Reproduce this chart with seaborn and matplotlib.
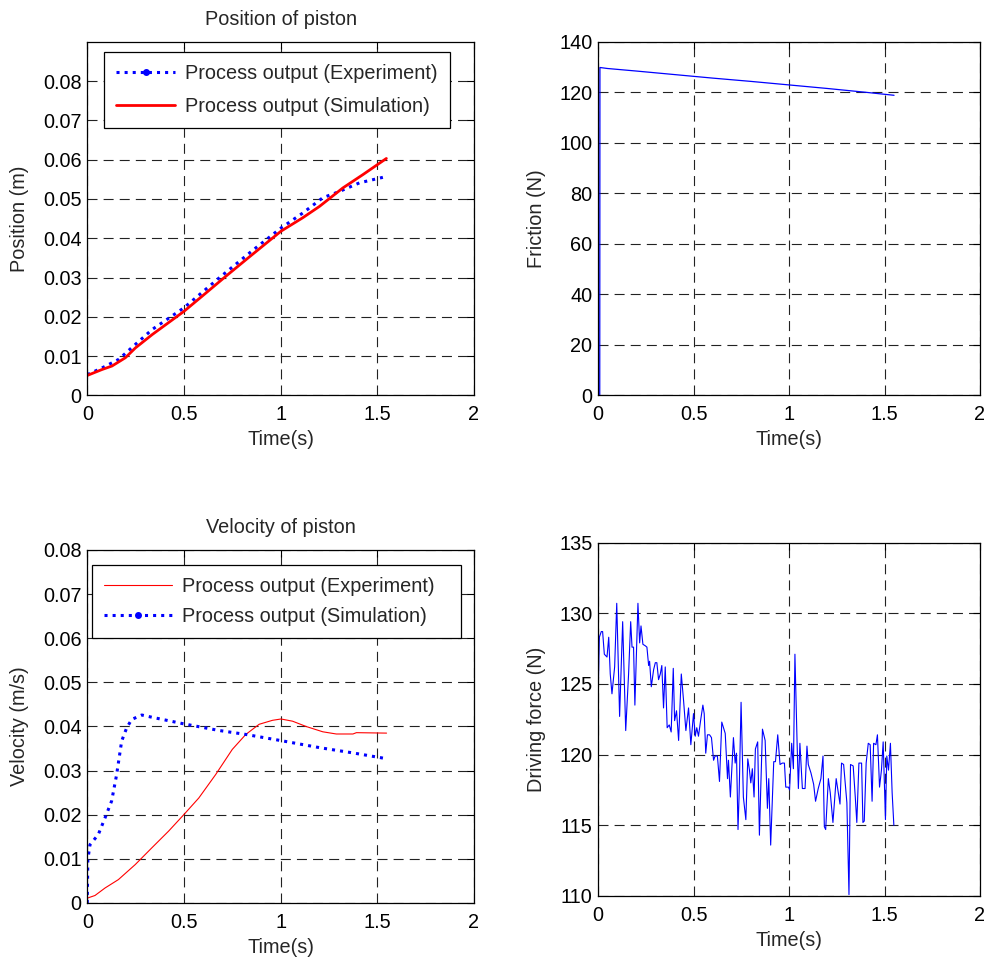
import numpy as np
import pandas as pd
import matplotlib
matplotlib.use("Agg")
import matplotlib.pyplot as plt
from matplotlib.lines import Line2D
import seaborn as sns

# ---------------- data ----------------
# Position of piston
pos_exp_t = [0, 0.076, 0.163, 0.249, 0.336, 0.500, 0.682, 0.855, 1.002, 1.114, 1.218, 1.304, 1.408, 1.529]
pos_exp_v = [0.0053, 0.0070, 0.0092, 0.0130, 0.0168, 0.0223, 0.0299, 0.0369, 0.0426, 0.0464, 0.0503, 0.0519, 0.0541, 0.0555]
pos_sim_t = [0, 0.076, 0.128, 0.197, 0.249, 0.336, 0.500, 0.595, 0.716, 0.837, 1.002, 1.114, 1.201, 1.322, 1.426, 1.547]
pos_sim_v = [0.0051, 0.0066, 0.0075, 0.0096, 0.0121, 0.0155, 0.0214, 0.0253, 0.0303, 0.0352, 0.0418, 0.0452, 0.0481, 0.0528, 0.0562, 0.0603]

# Friction
fric_t = [0.009, 0.010, 0.05, 0.2, 0.4, 0.6, 0.8, 1.0, 1.2, 1.4, 1.55]
fric_v = [0, 129.8, 129.4, 128.4, 127.0, 125.6, 124.3, 122.9, 121.5, 120.0, 118.8]

# Velocity of piston
vel_exp_t = [0, 0.040, 0.092, 0.161, 0.248, 0.334, 0.421, 0.499, 0.577, 0.664, 0.750, 0.820, 0.889,
             0.958, 1.002, 1.062, 1.132, 1.218, 1.288, 1.374, 1.392, 1.548]
vel_exp_v = [0.0011, 0.0017, 0.0034, 0.0053, 0.0087, 0.0125, 0.0163, 0.0200, 0.0238, 0.0291, 0.0348, 0.0382, 0.0405,
             0.0414, 0.0417, 0.0412, 0.0400, 0.0388, 0.0383, 0.0383, 0.0386, 0.0385]
vel_sim_t = [0, 0.003, 0.014, 0.057, 0.092, 0.126, 0.152, 0.178, 0.204, 0.230, 0.282, 0.334, 0.499, 0.681,
             0.820, 1.002, 1.202, 1.376, 1.548]
vel_sim_v = [0.0, 0.0098, 0.0132, 0.0155, 0.0193, 0.0231, 0.0291, 0.0367, 0.0397, 0.0416, 0.0426, 0.0421, 0.0406,
             0.0391, 0.0382, 0.0368, 0.0352, 0.0340, 0.0327]

# Driving force
force_t = [0.000, 0.007, 0.017, 0.024, 0.033, 0.047, 0.056, 0.064, 0.073, 0.087, 0.098, 0.113, 0.129, 0.145,
           0.160, 0.171, 0.178, 0.186, 0.193, 0.209, 0.218, 0.225, 0.235, 0.247, 0.256, 0.265, 0.270, 0.279,
           0.291, 0.300, 0.308, 0.317, 0.326, 0.334, 0.343, 0.352, 0.362, 0.373, 0.383, 0.394, 0.401, 0.411,
           0.422, 0.436, 0.448, 0.460, 0.474, 0.486, 0.500, 0.509, 0.517, 0.526, 0.537, 0.549, 0.556, 0.564,
           0.573, 0.584, 0.594, 0.605, 0.613, 0.625, 0.636, 0.648, 0.657, 0.666, 0.678, 0.683, 0.693, 0.709,
           0.718, 0.725, 0.733, 0.739, 0.749, 0.761, 0.774, 0.784, 0.793, 0.800, 0.808, 0.817, 0.824, 0.836,
           0.845, 0.861, 0.875, 0.887, 0.894, 0.904, 0.920, 0.929, 0.941, 0.953, 0.965, 0.976, 0.983, 0.997,
           1.003, 1.014, 1.023, 1.031, 1.042, 1.049, 1.057, 1.070, 1.084, 1.094, 1.101, 1.115, 1.129, 1.139,
           1.153, 1.167, 1.178, 1.185, 1.192, 1.206, 1.216, 1.230, 1.247, 1.267, 1.275, 1.286, 1.303, 1.314,
           1.322, 1.336, 1.347, 1.355, 1.366, 1.380, 1.387, 1.394, 1.404, 1.415, 1.425, 1.435, 1.443, 1.455,
           1.463, 1.474, 1.484, 1.493, 1.505, 1.512, 1.521, 1.531, 1.540, 1.549]
force_v = [123.8, 128.3, 128.7, 128.7, 127.1, 126.9, 128.3, 125.7, 124.3, 126.2, 130.7, 122.7, 129.4, 121.7,
           125.7, 129.4, 127.6, 127.6, 123.5, 130.7, 127.9, 129.1, 127.8, 127.7, 127.6, 126.3, 126.6, 124.8,
           126.0, 126.5, 126.5, 125.3, 125.7, 126.3, 123.3, 126.2, 121.9, 122.1, 121.6, 126.1, 122.4, 123.1,
           121.0, 125.7, 123.8, 121.7, 123.3, 120.7, 122.9, 121.3, 121.9, 121.3, 122.4, 123.5, 122.9, 120.1,
           121.4, 121.4, 121.2, 119.6, 119.9, 119.9, 118.1, 122.3, 121.9, 121.5, 118.3, 119.6, 117.0, 121.2,
           119.4, 120.1, 114.7, 117.3, 123.7, 117.0, 115.4, 119.7, 118.9, 118.0, 119.0, 117.0, 120.4, 120.9,
           114.3, 121.8, 121.0, 116.2, 118.3, 113.6, 119.5, 119.5, 121.4, 119.3, 119.4, 119.4, 117.7, 117.7,
           117.5, 120.8, 119.0, 127.1, 121.0, 117.6, 120.8, 117.6, 117.6, 120.6, 119.3, 118.7, 117.9, 116.7,
           117.6, 118.3, 119.9, 114.9, 114.7, 118.3, 117.3, 115.2, 118.3, 116.5, 119.4, 119.3, 116.6, 110.1,
           119.3, 119.2, 117.0, 115.2, 119.4, 119.4, 115.2, 115.3, 119.4, 120.8, 120.7, 116.7, 120.8, 120.7,
           121.4, 117.7, 118.9, 120.9, 115.4, 119.9, 118.9, 120.8, 117.3, 115.0]

x_ticks = [0, 0.5, 1, 1.5, 2]
x_ticklabels = ["0", "0.5", "1", "1.5", "2"]
pos_ticks = [0, 0.01, 0.02, 0.03, 0.04, 0.05, 0.06, 0.07, 0.08]
pos_ticklabels = ["0", "0.01", "0.02", "0.03", "0.04", "0.05", "0.06", "0.07", "0.08"]
fric_ticks = [0, 20, 40, 60, 80, 100, 120, 140]
force_ticks = [110, 115, 120, 125, 130, 135]
legend_labels = ["Process output (Experiment)", "Process output (Simulation)"]

# ---------------- style ----------------
sns.set_theme(style="white")
plt.rcParams["font.family"] = ["Liberation Sans", "DejaVu Sans"]
plt.rcParams["font.size"] = 14.3
plt.rcParams["axes.edgecolor"] = "black"
plt.rcParams["axes.linewidth"] = 0.9

FS = 14.3
BLUE = "#0000FF"
RED = "#FF0000"

fig = plt.figure(figsize=(9.87, 9.59), dpi=100)
fig.patch.set_facecolor("white")

ax_tl = fig.add_axes([0.0884, 0.5876, 0.3918, 0.3689])
ax_tr = fig.add_axes([0.6059, 0.5876, 0.3870, 0.3689])
ax_bl = fig.add_axes([0.0884, 0.0584, 0.3918, 0.3681])
ax_br = fig.add_axes([0.6059, 0.0657, 0.3870, 0.3686])


def style_axes(ax, yticks, yticklabels, ylim, ylabel, ylab_x):
    ax.set_xlim(0, 2)
    ax.set_ylim(*ylim)
    ax.set_xticks(x_ticks)
    ax.set_xticklabels(x_ticklabels)
    ax.set_yticks(yticks)
    ax.set_yticklabels(yticklabels)
    ax.tick_params(direction="in", top=True, right=True, length=5, width=0.8,
                   labelsize=FS, colors="black", pad=4)
    ax.tick_params(axis="x", pad=7)
    ax.grid(True, color="#222222", linestyle=(0, (9, 5.5)), linewidth=0.8)
    ax.set_axisbelow(True)
    ax.set_xlabel("Time(s)", fontsize=FS)
    ax.set_ylabel(ylabel, fontsize=FS)
    ax.xaxis.set_label_coords(0.5, -0.098)
    ax.yaxis.set_label_coords(ylab_x, 0.5)
    for s in ax.spines.values():
        s.set_color("black")
        s.set_linewidth(0.9)


def legend(ax, handles, anchor, hl, spacing):
    leg = ax.legend(handles, legend_labels, loc="upper left", bbox_to_anchor=anchor,
                    mode="expand", fontsize=FS, frameon=True, fancybox=False, shadow=False,
                    handlelength=hl, handletextpad=0.5, borderpad=0.6,
                    labelspacing=spacing, borderaxespad=0, numpoints=1)
    leg.get_frame().set_edgecolor("black")
    leg.get_frame().set_linewidth(0.9)
    leg.get_frame().set_facecolor("white")
    leg.get_frame().set_alpha(1)


# ----- Position -----
sns.lineplot(x=pos_exp_t, y=pos_exp_v, ax=ax_tl, color=BLUE, linestyle=":", linewidth=2.2,
             estimator=None, sort=False, legend=False)
sns.lineplot(x=pos_sim_t, y=pos_sim_v, ax=ax_tl, color=RED, linestyle="-", linewidth=2.0,
             estimator=None, sort=False, legend=False)
style_axes(ax_tl, pos_ticks, pos_ticklabels, (0, 0.09), "Position (m)", -0.151)
ax_tl.set_title("Position of piston", fontsize=FS, pad=12)
h1 = Line2D([], [], color=BLUE, linestyle=":", linewidth=2.2, marker=".", markersize=8)
h2 = Line2D([], [], color=RED, linestyle="-", linewidth=2.0)
legend(ax_tl, [h1, h2], (0.043, 0.5, 0.895, 0.471), 3.0, 0.72)

# ----- Friction -----
sns.lineplot(x=fric_t, y=fric_v, ax=ax_tr, color=BLUE, linewidth=0.9,
             estimator=None, sort=False, legend=False)
style_axes(ax_tr, fric_ticks, [str(v) for v in fric_ticks], (0, 140), "Friction (N)", -0.136)

# ----- Velocity -----
sns.lineplot(x=vel_exp_t, y=vel_exp_v, ax=ax_bl, color=RED, linestyle="-", linewidth=0.8,
             estimator=None, sort=False, legend=False)
sns.lineplot(x=vel_sim_t, y=vel_sim_v, ax=ax_bl, color=BLUE, linestyle=":", linewidth=2.2,
             estimator=None, sort=False, legend=False)
style_axes(ax_bl, pos_ticks, pos_ticklabels, (0, 0.08), "Velocity (m/s)", -0.151)
ax_bl.set_title("Velocity of piston", fontsize=FS, pad=12)
h3 = Line2D([], [], color=RED, linestyle="-", linewidth=0.8)
h4 = Line2D([], [], color=BLUE, linestyle=":", linewidth=2.2, marker=".", markersize=8)
legend(ax_bl, [h3, h4], (0.012, 0.5, 0.954, 0.458), 3.45, 0.55)

# ----- Driving force -----
sns.lineplot(x=force_t, y=force_v, ax=ax_br, color=BLUE, linewidth=0.8,
             estimator=None, sort=False, legend=False)
style_axes(ax_br, force_ticks, [str(v) for v in force_ticks], (110, 135), "Driving force (N)", -0.136)

fig.savefig("out.png", dpi=100, facecolor="white")
